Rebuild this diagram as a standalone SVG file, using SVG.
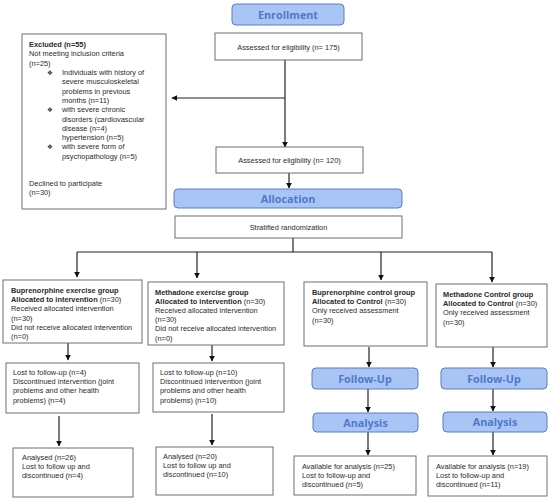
<svg xmlns="http://www.w3.org/2000/svg" width="550" height="501" viewBox="0 0 550 501">
<defs>
<style>
.bx{fill:#fff;stroke:#6e6e6e;stroke-width:1}
.hd{fill:#a9c5f6;stroke:#5a7cbf;stroke-width:1}
.t{font-family:"Liberation Sans",Arial,sans-serif;font-size:7.4px;fill:#2a2a2a}
.bu{font-family:"DejaVu Sans",sans-serif;font-size:6.5px;fill:#333}
.b{font-weight:bold}
.ht{font-family:"Open Sans","Noto Sans",sans-serif;font-size:10.8px;font-weight:bold;fill:#5079c6;text-anchor:middle}
.ln{fill:none;stroke:#222;stroke-width:1.2}
</style>
<marker id="ar" viewBox="0 0 10 10" refX="9" refY="5" markerWidth="5" markerHeight="5" orient="auto">
<path d="M0,0 L10,5 L0,10 z" fill="#111"/>
</marker>
</defs>
<rect width="550" height="501" fill="#fff"/>

<g id="connectors">
<path class="ln" d="M285,60 V147" marker-end="url(#ar)"/>
<path class="ln" d="M285,98 H172" marker-end="url(#ar)"/>
<path class="ln" d="M289,173 V188" marker-end="url(#ar)"/>
<path class="ln" d="M293,238 V252"/>
<path class="ln" d="M77,252 H492"/>
<path class="ln" d="M77,252 V277" marker-end="url(#ar)"/>
<path class="ln" d="M197,252 V278" marker-end="url(#ar)"/>
<path class="ln" d="M381,252 V280" marker-end="url(#ar)"/>
<path class="ln" d="M492,252 V282" marker-end="url(#ar)"/>
<path class="ln" d="M68,342 V360" marker-end="url(#ar)"/>
<path class="ln" d="M212,345 V361" marker-end="url(#ar)"/>
<path class="ln" d="M59,416 V446" marker-end="url(#ar)"/>
<path class="ln" d="M212,414 V445" marker-end="url(#ar)"/>
<path class="ln" d="M369,347 V367" marker-end="url(#ar)"/>
<path class="ln" d="M368,389 V412" marker-end="url(#ar)"/>
<path class="ln" d="M368,432 V455" marker-end="url(#ar)"/>
<path class="ln" d="M493,347 V367" marker-end="url(#ar)"/>
<path class="ln" d="M493,389 V411" marker-end="url(#ar)"/>
<path class="ln" d="M493,432 V455" marker-end="url(#ar)"/>
</g>

<g id="enrollment">
<rect class="hd" x="232" y="4" width="112" height="21" rx="4"/>
<text class="ht" x="288" y="18.5">Enrollment</text>
</g>

<g id="assessed175">
<rect class="bx" x="215" y="33" width="147" height="27"/>
<text class="t" x="288.5" y="49.5" text-anchor="middle">Assessed for eligibility (n= 175)</text>
</g>

<g id="excluded">
<rect class="bx" x="22" y="34" width="144" height="175"/>
<text class="t" x="29" y="47"><tspan class="b">Excluded (n=55)</tspan></text>
<text class="t" x="29" y="56.3">Not meeting inclusion criteria</text>
<text class="t" x="29" y="65.6">(n=25)</text>
<text class="bu" x="47" y="75">❖</text>
<text class="t" x="62" y="75">Individuals with history of</text>
<text class="t" x="62" y="84.3">severe musculoskeletal</text>
<text class="t" x="62" y="93.6">problems in previous</text>
<text class="t" x="62" y="102.9">months (n=11)</text>
<text class="bu" x="47" y="112.2">❖</text>
<text class="t" x="62" y="112.2">with severe chronic</text>
<text class="t" x="62" y="121.5">disorders (cardiovascular</text>
<text class="t" x="62" y="130.8">disease (n=4)</text>
<text class="t" x="62" y="140.1">hypertension (n=5)</text>
<text class="bu" x="47" y="149.4">❖</text>
<text class="t" x="62" y="149.4">with severe form of</text>
<text class="t" x="62" y="158.7">psychopathology (n=5)</text>
<text class="t" x="29" y="186">Declined to participate</text>
<text class="t" x="29" y="195.3">(n=30)</text>
</g>

<g id="assessed120">
<rect class="bx" x="216" y="147" width="147" height="26"/>
<text class="t" x="289.5" y="163" text-anchor="middle">Assessed for eligibility (n= 120)</text>
</g>

<g id="allocation">
<rect class="hd" x="174" y="189" width="228" height="19" rx="4"/>
<text class="ht" x="288" y="202.5">Allocation</text>
</g>

<g id="stratified">
<rect class="bx" x="175" y="216" width="227" height="22"/>
<text class="t" x="288.5" y="230" text-anchor="middle">Stratified randomization</text>
</g>

<g id="bup-ex">
<rect class="bx" x="3" y="280" width="139" height="63"/>
<text class="t" x="11" y="293"><tspan class="b">Buprenorphine exercise group</tspan></text>
<text class="t" x="11" y="302.2"><tspan class="b">Allocated to intervention</tspan> (n=30)</text>
<text class="t" x="11" y="311.4">Received allocated intervention</text>
<text class="t" x="11" y="320.6">(n=30)</text>
<text class="t" x="11" y="329.8">Did not receive allocated intervention</text>
<text class="t" x="11" y="339">(n=0)</text>
</g>

<g id="met-ex">
<rect class="bx" x="148" y="282" width="136" height="63"/>
<text class="t" x="155" y="294.5"><tspan class="b">Methadone exercise group</tspan></text>
<text class="t" x="155" y="303.7"><tspan class="b">Allocated to intervention</tspan> (n=30)</text>
<text class="t" x="155" y="312.9">Received allocated intervention</text>
<text class="t" x="155" y="322.1">(n=30)</text>
<text class="t" x="155" y="331.3">Did not receive allocated intervention</text>
<text class="t" x="155" y="340.5">(n=0)</text>
</g>

<g id="bup-ctl">
<rect class="bx" x="304" y="282" width="123" height="64"/>
<text class="t" x="312" y="295"><tspan class="b">Buprenorphine control group</tspan></text>
<text class="t" x="312" y="304.2"><tspan class="b">Allocated to Control</tspan> (n=30)</text>
<text class="t" x="312" y="313.4">Only received assessment</text>
<text class="t" x="312" y="322.6">(n=30)</text>
</g>

<g id="met-ctl">
<rect class="bx" x="436" y="284" width="111" height="63"/>
<text class="t" x="443" y="297"><tspan class="b">Methadone Control group</tspan></text>
<text class="t" x="443" y="306.2"><tspan class="b">Allocated to Control</tspan> (n=30)</text>
<text class="t" x="443" y="315.4">Only received assessment</text>
<text class="t" x="443" y="324.6">(n=30)</text>
</g>

<g id="lost1">
<rect class="bx" x="6" y="363" width="133" height="50"/>
<text class="t" x="13" y="375">Lost to follow-up (n=4)</text>
<text class="t" x="13" y="384.2">Discontinued intervention (joint</text>
<text class="t" x="13" y="393.4">problems and other health</text>
<text class="t" x="13" y="402.6">problems) (n=4)</text>
</g>

<g id="lost2">
<rect class="bx" x="153" y="363" width="131" height="49"/>
<text class="t" x="160" y="375">Lost to follow-up (n=10)</text>
<text class="t" x="160" y="384.2">Discontinued intervention (joint</text>
<text class="t" x="160" y="393.4">problems and other health</text>
<text class="t" x="160" y="402.6">problems) (n=10)</text>
</g>

<g id="followup1">
<rect class="hd" x="312" y="368" width="106" height="21" rx="4"/>
<text class="ht" x="365" y="382.5">Follow-Up</text>
</g>

<g id="followup2">
<rect class="hd" x="441" y="368" width="106" height="21" rx="4"/>
<text class="ht" x="494" y="382.5">Follow-Up</text>
</g>

<g id="analysis1">
<rect class="hd" x="313" y="413" width="105" height="19" rx="4"/>
<text class="ht" x="365.5" y="426.5">Analysis</text>
</g>

<g id="analysis2">
<rect class="hd" x="443" y="412" width="104" height="20" rx="4"/>
<text class="ht" x="495" y="426">Analysis</text>
</g>

<g id="analysed1">
<rect class="bx" x="13" y="448" width="120" height="49"/>
<text class="t" x="22" y="460">Analysed (n=26)</text>
<text class="t" x="22" y="469.2">Lost to follow up and</text>
<text class="t" x="22" y="478.4">discontinued (n=4)</text>
</g>

<g id="analysed2">
<rect class="bx" x="156" y="447" width="117" height="48"/>
<text class="t" x="163" y="459">Analysed (n=20)</text>
<text class="t" x="163" y="468.2">Lost to follow up and</text>
<text class="t" x="163" y="477.4">discontinued (n=10)</text>
</g>

<g id="avail1">
<rect class="bx" x="294" y="456" width="122" height="39"/>
<text class="t" x="302" y="468.5">Available for analysis (n=25)</text>
<text class="t" x="302" y="477.7">Lost to follow-up and</text>
<text class="t" x="302" y="486.9">discontinued (n=5)</text>
</g>

<g id="avail2">
<rect class="bx" x="428" y="456" width="119" height="40"/>
<text class="t" x="436" y="469">Available for analysis (n=19)</text>
<text class="t" x="436" y="478.2">Lost to follow-up and</text>
<text class="t" x="436" y="487.4">discontinued (n=11)</text>
</g>
</svg>
